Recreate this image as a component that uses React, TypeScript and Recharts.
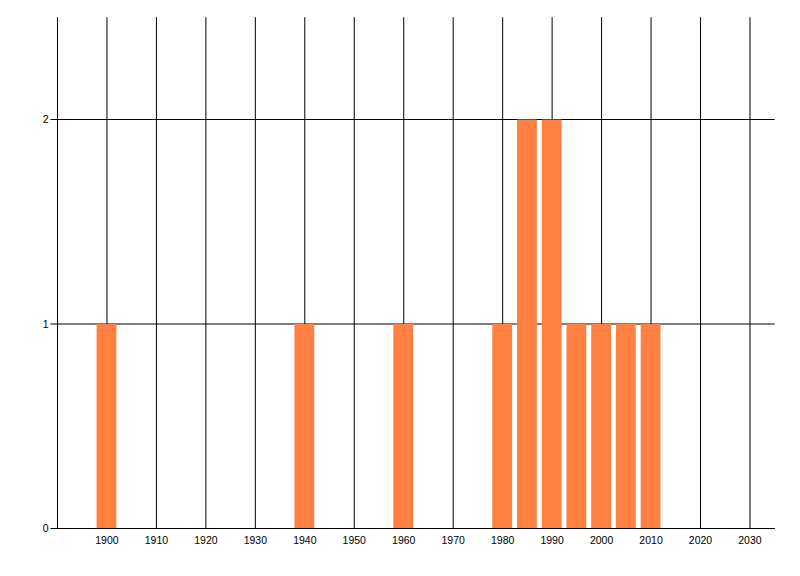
import React from "react";
import { BarChart, Bar, XAxis, YAxis, CartesianGrid } from "recharts";

const years = [1900, 1940, 1960, 1980, 1985, 1990, 1995, 2000, 2005, 2010];
const counts = [1, 1, 1, 1, 2, 2, 1, 1, 1, 1];
const xTicks = [1900, 1910, 1920, 1930, 1940, 1950, 1960, 1970, 1980, 1990, 2000, 2010, 2020, 2030];
const yTicks = [0, 1, 2];

const data = years.map((y, i) => ({ year: y, count: counts[i] }));

const tickStyle = { fill: "#000", fontSize: 10.5, fontFamily: "Liberation Sans, Arial, sans-serif" };

export default function App() {
  return (
    <div style={{ width: 800, height: 576 }}>
      <BarChart
        width={800}
        height={576}
        data={data}
        margin={{ top: 9.25, right: 33.3, left: 0, bottom: 25.5 }}
      >
        <CartesianGrid stroke="#000" strokeWidth={1} syncWithTicks={true} />
        <XAxis
          dataKey="year"
          type="number"
          domain={[1890, 2035]}
          ticks={xTicks}
          allowDataOverflow
          axisLine={{ stroke: "#000" }}
          tickLine={false}
          tick={tickStyle}
          interval={0}
          height={30}
        />
        <YAxis
          type="number"
          domain={[0, 2.5]}
          ticks={yTicks}
          allowDataOverflow
          width={49.5}
          axisLine={{ stroke: "#000" }}
          tickLine={{ stroke: "#000" }}
          tickSize={7}
          tick={tickStyle}
          interval={0}
        />
        <Bar dataKey="count" fill="#FF8040" barSize={19.8} isAnimationActive={false} />
      </BarChart>
    </div>
  );
}
